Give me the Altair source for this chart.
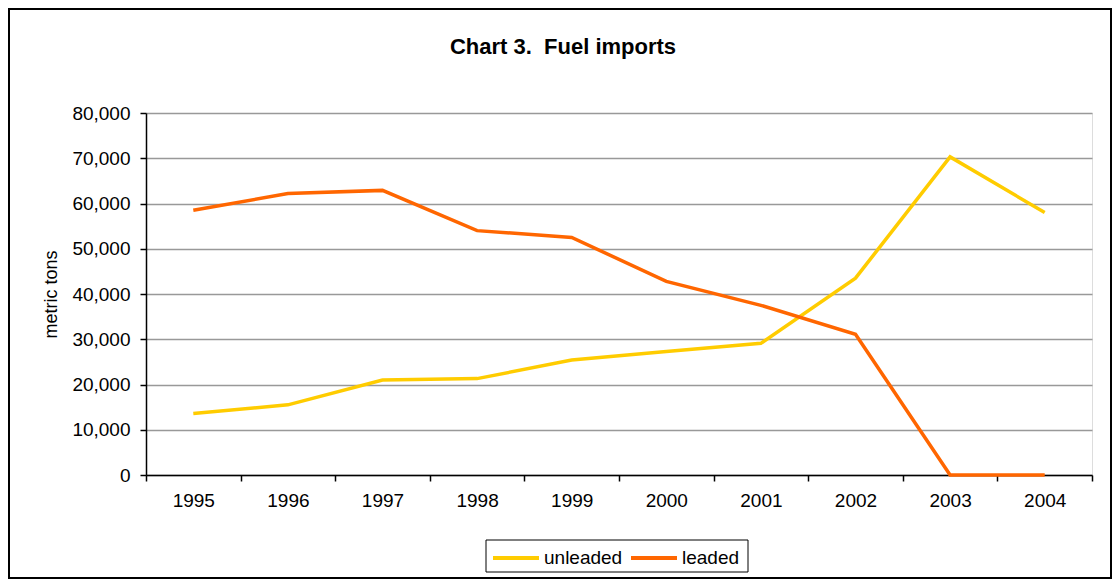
import altair as alt
import pandas as pd

years = ["1995", "1996", "1997", "1998", "1999", "2000", "2001", "2002", "2003", "2004"]
unleaded = [13600, 15500, 21000, 21300, 25400, 27300, 29100, 43500, 70300, 58000]
leaded = [58500, 62200, 62900, 54000, 52500, 42800, 37500, 31100, 0, 0]
series_names = ["unleaded", "leaded"]
series_colors = ["#FFCC00", "#FF6600"]
title_text = "Chart 3.\u00a0 Fuel imports"

rows = []
for y, u, l in zip(years, unleaded, leaded):
    rows.append({"year": y, "series": "unleaded", "value": u})
    rows.append({"year": y, "series": "leaded", "value": l})
df = pd.DataFrame(rows)

W, H = 946, 362
FONT = "Liberation Sans"

lines = alt.Chart(df).mark_line(strokeWidth=3.5).encode(
    x=alt.X("year:N", bandPosition=0.5,
            scale=alt.Scale(type="band", paddingInner=0, paddingOuter=0),
            axis=alt.Axis(title=None, labelAngle=0, tickBand="extent", grid=False,
                          domainColor="black", domainWidth=1.5, tickColor="black",
                          tickWidth=1.5, tickSize=6, labelPadding=10, labelFontSize=19,
                          labelColor="black", labelFont=FONT)),
    y=alt.Y("value:Q", scale=alt.Scale(domain=[0, 80000], nice=False),
            axis=alt.Axis(title="metric tons", values=list(range(0, 80001, 10000)),
                          format=",.0f", grid=True, gridColor="#999999", gridWidth=1.6,
                          domainColor="black", domainWidth=1.5, tickColor="black",
                          tickWidth=1.5, tickSize=6, labelPadding=10, labelFontSize=19,
                          labelColor="black", labelFont=FONT, titleFont=FONT,
                          titleFontSize=18, titleFontWeight="normal", titleColor="black",
                          titleX=-95, titleY=181, titleAngle=-90, titleAlign="center",
                          titleBaseline="middle")),
    color=alt.Color("series:N", sort=series_names,
                    scale=alt.Scale(domain=series_names, range=series_colors),
                    legend=alt.Legend(title=None, orient="none", legendX=345, legendY=420,
                                      direction="horizontal", symbolType="stroke",
                                      symbolSize=2116, symbolStrokeWidth=4,
                                      labelFontSize=19, labelFont=FONT, labelColor="black",
                                      padding=0, columnPadding=0, labelOffset=3)),
)

one = pd.DataFrame({"t": [title_text]})

border = alt.Chart(one).mark_rect(
    fill=None, stroke="black", strokeWidth=2, clip=False
).encode(
    x=alt.value(-137), x2=alt.value(965), y=alt.value(-104), y2=alt.value(465)
)

legend_box = alt.Chart(one).mark_rect(
    fill="white", stroke="black", strokeWidth=1, clip=False
).encode(
    x=alt.value(340), x2=alt.value(602), y=alt.value(427), y2=alt.value(459)
)

title = alt.Chart(one).mark_text(
    font=FONT, fontSize=22, fontWeight="bold", color="black",
    align="center", baseline="middle"
).encode(text="t:N", x=alt.value(417), y=alt.value(-66))

chart = alt.layer(border, legend_box, title, lines).properties(
    width=W, height=H,
    autosize=alt.AutoSizeParams(type="none"),
    padding={"left": 138, "top": 105, "right": 20, "bottom": 104},
).configure_view(stroke=None).configure(background="white")

chart.save("out.html", embed_options={"renderer": "svg", "actions": False})
